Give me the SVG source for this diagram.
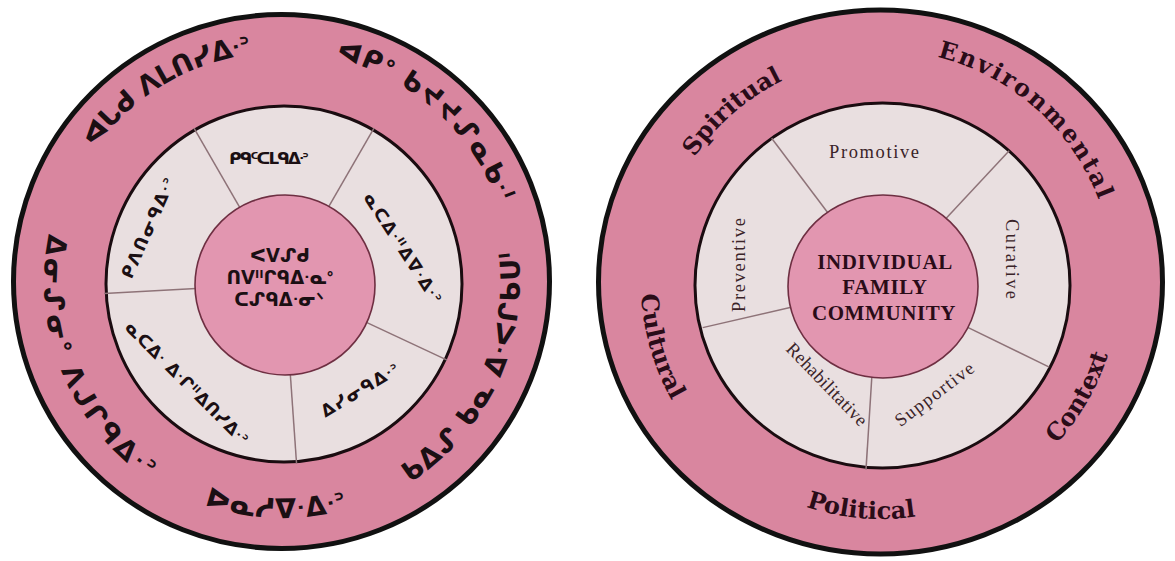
<svg xmlns="http://www.w3.org/2000/svg" xmlns:xlink="http://www.w3.org/1999/xlink" width="1175" height="561" viewBox="0 0 1175 561">
<style>
.band{fill:#d9869f;stroke:#111;stroke-width:5}
.ring{fill:#e9dfe0;stroke:#1a0c10;stroke-width:3}
.core{fill:#e296b0;stroke:#6e2f42;stroke-width:1.6}
.div{stroke:#8e7378;stroke-width:1.5}
.syl{font-family:"DejaVu Sans","Noto Sans",sans-serif;font-weight:bold;fill:#1b0f13}
.so{font-size:27px}
.si{font-size:17px}
.sc{font-size:18px}
.eo{font-family:"DejaVu Serif","Liberation Serif",serif;font-weight:bold;font-size:24px;fill:#2a0c18}
.ei{font-family:"Liberation Serif",serif;font-size:18.5px;fill:#3a2328}
.ec{font-family:"Liberation Serif",serif;font-weight:bold;font-size:21px;letter-spacing:0.6px;fill:#2a0c18}
</style>
<defs>
<path id="pL1" d="M 67.28 364.43 A 230 230 0 0 1 455.58 131.11"/>
<path id="pL2" d="M 138.82 102.00 A 230 230 0 0 1 478.11 402.18"/>
<path id="pL3" d="M 220.40 511.89 A 238 238 0 0 0 418.51 87.04"/>
<path id="pL4" d="M 48.59 316.88 A 236 236 0 0 0 513.26 329.05"/>
<path id="pL5" d="M 155.88 80.16 A 238 238 0 0 0 331.48 514.80"/>
<path id="pR1" d="M 688.14 398.88 A 225 225 0 0 1 1022.60 108.14"/>
<path id="pR2" d="M 735.95 100.65 A 233 233 0 0 1 1079.67 404.74"/>
<path id="pR3" d="M 799.60 506.65 A 238 238 0 0 0 1033.98 100.68"/>
<path id="pR4" d="M 645.90 303.57 A 236 236 0 0 0 1108.96 344.08"/>
<path id="pR5" d="M 775.79 67.29 A 240 240 0 0 0 906.09 521.68"/>
</defs>
<rect width="1175" height="561" fill="#ffffff"/>

<!-- LEFT WHEEL (Cree syllabics) -->
<g id="left-wheel">
  <g id="left-context-ring">
    <ellipse class="band" cx="281.5" cy="281.5" rx="268" ry="267"/>
  </g>
  <g id="left-care-ring">
    <circle class="ring" cx="284" cy="284" r="178"/>
  </g>
  <g id="left-dividers">
    <line class="div" x1="240" y1="207.79" x2="194" y2="128.11"/>
    <line class="div" x1="328" y1="207.79" x2="374" y2="128.11"/>
    <line class="div" x1="363.76" y1="321.19" x2="447.14" y2="360.07"/>
    <line class="div" x1="290.14" y1="371.79" x2="296.56" y2="463.56"/>
    <line class="div" x1="196.12" y1="288.61" x2="104.25" y2="293.42"/>
  </g>
  <g id="left-center">
    <circle class="core" cx="285" cy="285" r="90"/>
    <text class="syl sc" text-anchor="middle"><tspan x="280" y="262">ᐸᐯᔑᑯ</tspan><tspan x="280" y="284">ᑎᐯᐦᒋᑫᐃᐧᓇᐤ</tspan><tspan x="279" y="306">ᑕᔑᑫᐃᐧᓂᐠ</tspan></text>
  </g>
  <g id="left-spiritual"><text class="syl so"><textPath href="#pL1" xlink:href="#pL1" startOffset="50%" text-anchor="middle" textLength="188" lengthAdjust="spacing">ᐊᒐᑯ ᐱᒪᑎᓯᐃᐧᐣ</textPath></text></g>
  <g id="left-environmental"><text class="syl so"><textPath href="#pL2" xlink:href="#pL2" startOffset="50%" text-anchor="middle" textLength="226" lengthAdjust="spacing">ᐊᑭᐤ ᑲᔪᔪᔑᓇᑲᐧᑊ</textPath></text></g>
  <g id="left-context"><text class="syl so"><textPath href="#pL3" xlink:href="#pL3" startOffset="50%" text-anchor="middle" textLength="270" lengthAdjust="spacing">ᑲᐃᔑ ᑲᓇ ᐃᐧᐸᒋᑲᑌᑊ</textPath></text></g>
  <g id="left-political"><text class="syl so"><textPath href="#pL4" xlink:href="#pL4" startOffset="50%" text-anchor="middle" textLength="146" lengthAdjust="spacing">ᐅᓇᓱᐁᐧᐃᐧᐣ</textPath></text></g>
  <g id="left-cultural"><text class="syl so"><textPath href="#pL5" xlink:href="#pL5" startOffset="50%" text-anchor="middle" textLength="280" lengthAdjust="spacing">ᐃᓂᔑᓂᐤ ᐱᒍᒋᑫᐃᐧᐣ</textPath></text></g>
  <g id="left-promotive"><text class="syl si" text-anchor="middle" x="269" y="164" textLength="80" lengthAdjust="spacing">ᑭᑫᑦᑕᒪᑫᐃᐧᐣ</text></g>
  <g id="left-curative"><text class="syl si" text-anchor="middle" transform="translate(403 248) rotate(57)" x="0" y="6" textLength="128" lengthAdjust="spacing">ᓇᑕᐃᐧᐦᐃᐁᐧᐃᐧᐣ</text></g>
  <g id="left-supportive"><text class="syl si" text-anchor="middle" transform="translate(360 390) rotate(-31)" x="0" y="6" textLength="88" lengthAdjust="spacing">ᐃᓯᓂᑫᐃᐧᐣ</text></g>
  <g id="left-rehabilitative"><text class="syl si" text-anchor="middle" transform="translate(187 383) rotate(45)" x="0" y="6" textLength="166" lengthAdjust="spacing">ᓇᑕᐃᐧ ᐃᐧᒋᐦᐃᑎᓯᐃᐧᐣ</text></g>
  <g id="left-preventive"><text class="syl si" text-anchor="middle" transform="translate(148 228) rotate(-66)" x="0" y="6" textLength="108" lengthAdjust="spacing">ᑭᐱᑎᓂᑫᐃᐧᐣ</text></g>
</g>

<!-- RIGHT WHEEL (English) -->
<g id="right-wheel">
  <g id="right-context-ring">
    <ellipse class="band" cx="880.5" cy="282" rx="282" ry="272"/>
  </g>
  <g id="right-care-ring">
    <ellipse class="ring" cx="882.5" cy="285.5" rx="187.5" ry="182.5"/>
  </g>
  <g id="right-dividers">
    <line class="div" x1="827.63" y1="212.53" x2="771.66" y2="138.25"/>
    <line class="div" x1="945.74" y1="218.72" x2="1009.17" y2="150.70"/>
    <line class="div" x1="965.69" y1="326.33" x2="1049.28" y2="367.10"/>
    <line class="div" x1="871.79" y1="377.31" x2="866" y2="469.62"/>
    <line class="div" x1="793.36" y1="306.70" x2="702.74" y2="327.62"/>
  </g>
  <g id="right-center">
    <ellipse class="core" cx="883" cy="286.5" rx="95" ry="91.5"/>
    <text class="ec" text-anchor="middle"><tspan x="885" y="269">INDIVIDUAL</tspan><tspan x="885" y="294">FAMILY</tspan><tspan x="884" y="320">COMMUNITY</tspan></text>
  </g>
  <g id="right-spiritual"><text class="eo"><textPath href="#pR1" xlink:href="#pR1" startOffset="50%" text-anchor="middle">Spiritual</textPath></text></g>
  <g id="right-environmental"><text class="eo" font-size="25"><textPath href="#pR2" xlink:href="#pR2" startOffset="50%" text-anchor="middle" textLength="224" lengthAdjust="spacing">Environmental</textPath></text></g>
  <g id="right-context"><text class="eo"><textPath href="#pR3" xlink:href="#pR3" startOffset="50%" text-anchor="middle">Context</textPath></text></g>
  <g id="right-political"><text class="eo"><textPath href="#pR4" xlink:href="#pR4" startOffset="50%" text-anchor="middle">Political</textPath></text></g>
  <g id="right-cultural"><text class="eo"><textPath href="#pR5" xlink:href="#pR5" startOffset="50%" text-anchor="middle">Cultural</textPath></text></g>
  <g id="right-promotive"><text class="ei" text-anchor="middle" x="874" y="158" textLength="90" lengthAdjust="spacing">Promotive</text></g>
  <g id="right-curative"><text class="ei" text-anchor="middle" transform="translate(1011 259) rotate(90)" x="0" y="5" textLength="80" lengthAdjust="spacing">Curative</text></g>
  <g id="right-supportive"><text class="ei" text-anchor="middle" transform="translate(935 395) rotate(-37)" x="0" y="5" textLength="94" lengthAdjust="spacing">Supportive</text></g>
  <g id="right-rehabilitative"><text class="ei" text-anchor="middle" transform="translate(826 385) rotate(46)" x="0" y="5" textLength="108" lengthAdjust="spacing">Rehabilitative</text></g>
  <g id="right-preventive"><text class="ei" text-anchor="middle" transform="translate(740 265) rotate(-90)" x="0" y="5" textLength="94" lengthAdjust="spacing">Preventive</text></g>
</g>
</svg>
